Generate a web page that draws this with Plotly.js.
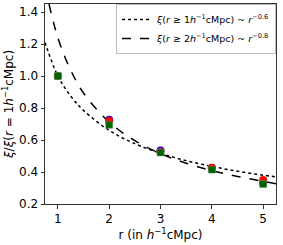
<!DOCTYPE html>
<html><head><meta charset="utf-8">
<script src="https://cdn.plot.ly/plotly-3.0.1.min.js"></script>
<style>html,body{margin:0;padding:0;background:#fff}#c{width:283px;height:245px}</style>
</head><body><div id="c"></div>
<script>
// Measured points
const r = [1, 2, 3, 4, 5];
const blueVals = [1.0, 0.727, 0.535, 0.425, 0.33];
const redVals = [1.0, 0.72, 0.527, 0.427, 0.35];
const greenVals = [1.0, 0.695, 0.522, 0.415, 0.325];
// Fit curves
const fitR = [0.75, 1, 1.25, 1.5, 2, 2.5, 3, 3.5, 4, 4.5, 5, 5.25];
const fit1Vals = [1.21, 1.0, 0.875, 0.785, 0.66, 0.577, 0.517, 0.471, 0.435, 0.405, 0.38, 0.37];
const fit2Vals = [1.56, 1.24, 1.037, 0.894, 0.712, 0.596, 0.515, 0.455, 0.409, 0.372, 0.342, 0.327];
const xTicks = [1, 2, 3, 4, 5];
const yTicks = [0.2, 0.4, 0.6, 0.8, 1.0, 1.2, 1.4];

const font = 'DejaVu Sans, sans-serif';
const traces = [
  {x: fitR, y: fit1Vals, mode: 'lines', line: {color: 'black', dash: 'dot', width: 1.5, shape: 'spline'},
   name: '<i>ξ</i>(<i>r</i> ≥ 1<i>h</i><sup>−1</sup>cMpc) ~ <i>r</i><sup>−0.6</sup>'},
  {x: fitR, y: fit2Vals, mode: 'lines', line: {color: 'black', dash: 'dash', width: 1.5, shape: 'spline'},
   name: '<i>ξ</i>(<i>r</i> ≥ 2<i>h</i><sup>−1</sup>cMpc) ~ <i>r</i><sup>−0.8</sup>'},
  {x: r, y: blueVals, mode: 'markers', showlegend: false, marker: {color: 'blue', size: 8, symbol: 'circle'}},
  {x: r, y: redVals, mode: 'markers', showlegend: false, marker: {color: 'red', size: 8, symbol: 'circle'}},
  {x: r, y: greenVals, mode: 'markers', showlegend: false, marker: {color: 'darkgreen', size: 7, symbol: 'square', line: {color: '#6a9a6a', width: 0.5}}}
];
const layout = {
  width: 283, height: 245,
  margin: {l: 45, r: 7, t: 4, b: 41},
  paper_bgcolor: 'white', plot_bgcolor: 'white',
  font: {family: font, color: 'black', size: 12},
  xaxis: {range: [0.75, 5.25], tickvals: xTicks, ticktext: xTicks.map(String),
    showgrid: false, zeroline: false, showline: true, mirror: true, linecolor: '#333', linewidth: 1,
    ticks: 'outside', ticklen: 3.5, tickcolor: '#333', tickfont: {size: 12},
    title: {text: 'r (in <i>h</i><sup>−1</sup>cMpc)', font: {size: 12}, standoff: 4}},
  yaxis: {range: [0.2, 1.45], tickvals: yTicks, ticktext: yTicks.map(v => v.toFixed(1)),
    showgrid: false, zeroline: false, showline: true, mirror: true, linecolor: '#333', linewidth: 1,
    ticks: 'outside', ticklen: 3.5, tickcolor: '#333', tickfont: {size: 12},
    title: {text: '<i>ξ</i>/<i>ξ</i>(<i>r</i> = 1<i>h</i><sup>−1</sup>cMpc)', font: {size: 12}, standoff: 4}},
  legend: {x: 1, y: 1, xanchor: 'right', yanchor: 'top', bgcolor: 'white', bordercolor: '#bbb', borderwidth: 1,
    font: {size: 9.5}, itemwidth: 30, tracegroupgap: 0}
};
Plotly.newPlot('c', traces, layout, {staticPlot: true, displayModeBar: false});
</script></body></html>
